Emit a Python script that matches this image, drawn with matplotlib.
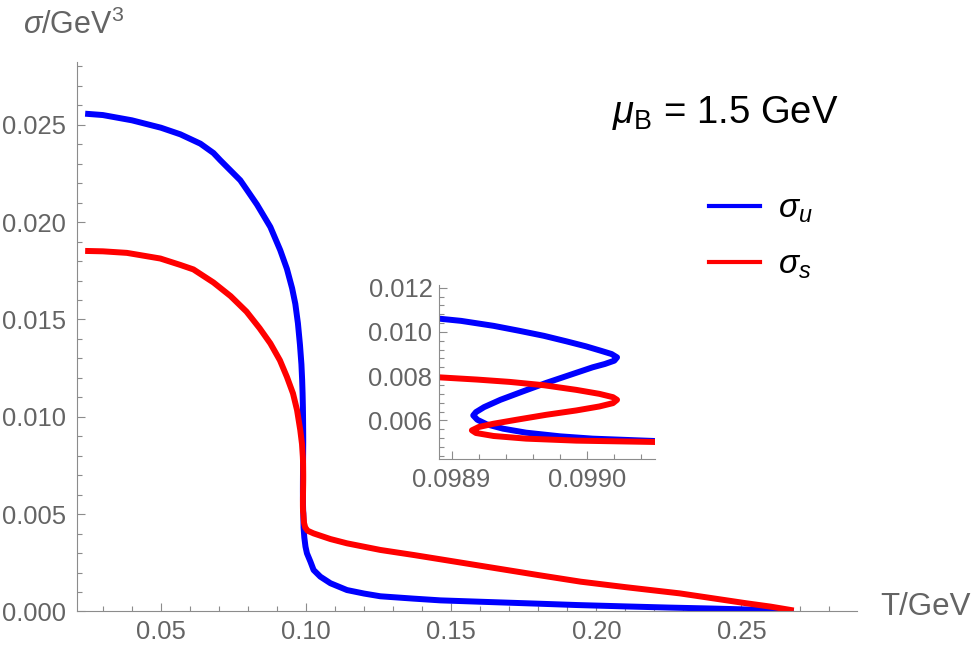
import matplotlib
matplotlib.use("Agg")
import matplotlib.pyplot as plt
from matplotlib.ticker import MultipleLocator, FormatStrFormatter

plt.rcParams['font.family'] = ['Liberation Sans', 'DejaVu Sans']
plt.rcParams['mathtext.fontset'] = 'custom'
plt.rcParams['mathtext.rm'] = 'Liberation Sans'
plt.rcParams['mathtext.it'] = 'Liberation Sans:italic'

# sigma_u (blue) vs T (incl. the S-shaped bit in the inset)
T_u = [0.0239, 0.030, 0.040, 0.050, 0.0567, 0.0636, 0.0681, 0.07045, 0.07734, 0.0797,
       0.0831, 0.0877, 0.0911, 0.0934, 0.0952, 0.0963, 0.0972, 0.0979, 0.0984, 0.09865, 0.0988,
       0.098890, 0.098907, 0.098931, 0.098950, 0.098968, 0.098985, 0.098999, 0.099010,
       0.099018, 0.099022, 0.099020, 0.099013, 0.099004, 0.098987, 0.098970, 0.098953,
       0.098936, 0.098924, 0.098918, 0.098916, 0.098919, 0.098926, 0.098938, 0.098955,
       0.098980, 0.099004, 0.099049,
       0.09915, 0.0994, 0.0998, 0.1003, 0.1015, 0.1026, 0.1049, 0.1084, 0.1141, 0.1200,
       0.1256, 0.1370, 0.1463, 0.1600, 0.1800, 0.1934, 0.2100, 0.2250, 0.2400, 0.2500,
       0.2600, 0.2680]
sig_u = [0.02557, 0.02550, 0.02523, 0.02485, 0.02451, 0.02403, 0.02355, 0.02318, 0.02215, 0.02164,
         0.02090, 0.01975, 0.01856, 0.01760, 0.01660, 0.01580, 0.01480, 0.01370, 0.01270, 0.01190, 0.01120,
         0.010605, 0.01050, 0.010275, 0.01005, 0.009825, 0.00957, 0.00935, 0.00915,
         0.00900, 0.00885, 0.00870, 0.00855, 0.00840, 0.00805, 0.00770, 0.00732,
         0.00693, 0.00660, 0.006375, 0.006225, 0.00603, 0.00582, 0.005625, 0.005445,
         0.00528, 0.005175, 0.00507,
         0.00430, 0.00380, 0.00333, 0.00299, 0.00256, 0.00213, 0.00179, 0.00145, 0.00110, 0.00092,
         0.00078, 0.00066, 0.00057, 0.00050, 0.00040, 0.00033, 0.00026, 0.00020, 0.00015, 0.00011,
         0.00006, 0.00002]

# sigma_s (red)
T_s = [0.0239, 0.030, 0.0383, 0.0498, 0.0567, 0.0612, 0.0681, 0.0740, 0.0795, 0.0840,
       0.0877, 0.0910, 0.0934, 0.0955, 0.0969, 0.0980, 0.0986,
       0.098890, 0.098919, 0.098943, 0.098968, 0.098992, 0.099009, 0.099019, 0.099022,
       0.099019, 0.099009, 0.098992, 0.098970, 0.098948, 0.098931, 0.098920, 0.098915,
       0.098918, 0.098931, 0.098955, 0.098992, 0.099049,
       0.0993, 0.0997, 0.1005, 0.1026, 0.1084, 0.1141, 0.1256, 0.1371, 0.1463, 0.1600,
       0.1800, 0.1946, 0.2100, 0.2287, 0.2400, 0.2517, 0.2600, 0.2680]
sig_s = [0.01852, 0.01850, 0.01842, 0.01813, 0.01780, 0.01757, 0.01690, 0.01620, 0.01540, 0.01455,
         0.01377, 0.01290, 0.01205, 0.01120, 0.01034, 0.00932, 0.00860,
         0.00795, 0.007845, 0.00774, 0.00759, 0.00738, 0.00720, 0.00705, 0.00693,
         0.00678, 0.00663, 0.00645, 0.006255, 0.00603, 0.00585, 0.00570, 0.00555,
         0.00543, 0.005295, 0.005175, 0.005085, 0.005025,
         0.00455, 0.00432, 0.00415, 0.00401, 0.00372, 0.00350, 0.00316, 0.00290, 0.00268, 0.00235,
         0.00187, 0.00153, 0.00125, 0.00093, 0.00068, 0.00042, 0.00025, 0.00005]

gray = '#8c8c8c'
txt_gray = '#646464'

fig = plt.figure(figsize=(9.75, 6.53), dpi=100)
ax = fig.add_axes([0.079, 0.0636, 0.7997, 0.8407])
ins = fig.add_axes([0.4506, 0.2966, 0.2212, 0.2669])

for a in (ax, ins):
    a.plot(T_u, sig_u, color='#0000ff', lw=4.3, solid_joinstyle='round', solid_capstyle='butt')
    a.plot(T_s, sig_s, color='#ff0000', lw=4.3, solid_joinstyle='round', solid_capstyle='butt')
    for s in ('top', 'right'):
        a.spines[s].set_visible(False)
    for s in ('left', 'bottom'):
        a.spines[s].set_color(gray)
        a.spines[s].set_linewidth(0.8)
    a.tick_params(which='both', direction='in', color=gray, width=0.8,
                  labelcolor=txt_gray, labelsize=18.4)
    a.tick_params(which='major', length=5.8)
    a.tick_params(which='minor', length=3.6)
    a.patch.set_alpha(0)

ax.set_xlim(0.0211, 0.2897)
ax.set_ylim(0, 0.0282)
ax.xaxis.set_major_locator(MultipleLocator(0.05))
ax.xaxis.set_minor_locator(MultipleLocator(0.01))
ax.yaxis.set_major_locator(MultipleLocator(0.005))
ax.yaxis.set_minor_locator(MultipleLocator(0.001))
ax.xaxis.set_major_formatter(FormatStrFormatter('%.2f'))
ax.yaxis.set_major_formatter(FormatStrFormatter('%.3f'))
ax.tick_params(axis='x', pad=6.5)
ax.tick_params(axis='y', pad=8)

ins.set_xlim(0.098891, 0.09905)
ins.set_ylim(0.00424, 0.01212)
ins.xaxis.set_major_locator(MultipleLocator(0.0001))
ins.xaxis.set_minor_locator(MultipleLocator(0.00002))
ins.yaxis.set_major_locator(MultipleLocator(0.002))
ins.yaxis.set_minor_locator(MultipleLocator(0.0004))
ins.xaxis.set_major_formatter(FormatStrFormatter('%.4f'))
ins.yaxis.set_major_formatter(FormatStrFormatter('%.3f'))
ins.tick_params(axis='x', pad=6.5)
ins.tick_params(axis='y', pad=5)

fig.text(0.0236, 0.948, r'$\sigma$/GeV$^3$', fontsize=22, color=txt_gray, va='baseline')
fig.text(0.9026, 0.0582, 'T/GeV', fontsize=22.5, color=txt_gray, va='baseline')
fig.text(0.6274, 0.8112, r'$\mu_{\mathrm{B}}$ = 1.5 GeV', fontsize=27.5, color='black', va='baseline')

h1, = ax.plot([], [], color='#0000ff', lw=3)
h2, = ax.plot([], [], color='#ff0000', lw=3)
fig.legend([h1, h2], [r'$\sigma_u$', r'$\sigma_s$'], loc='upper left',
           bbox_to_anchor=(0.727, 0.703), frameon=False, fontsize=24,
           handlelength=1.53, handletextpad=0.55, labelspacing=0.73,
           borderpad=0, borderaxespad=0)

fig.savefig('out.png', dpi=100)
